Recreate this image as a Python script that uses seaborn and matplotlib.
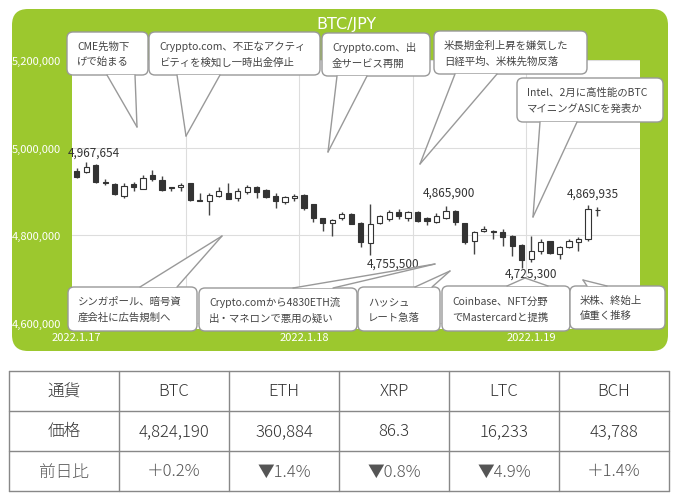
import numpy as np
import pandas as pd
import matplotlib
matplotlib.use("Agg")
import matplotlib.pyplot as plt
from matplotlib.patches import FancyBboxPatch, Polygon
from matplotlib.lines import Line2D
from matplotlib.transforms import Affine2D
from matplotlib.ticker import FuncFormatter
import seaborn as sns

sns.set_theme(style="white")
plt.rcParams['font.family'] = ['Noto Sans CJK JP', 'DejaVu Sans']

# hourly BTC/JPY candles, 2022.1.17 00:00 -> 2022.1.19 07:00
opens = [4947500, 4944500, 4961200, 4921700, 4917100, 4890400, 4917100, 4906400, 4938300, 4926900,
         4909600, 4909600, 4918700, 4879900, 4879000, 4889700, 4897300, 4885200, 4898900, 4909600,
         4902300, 4889100, 4875400, 4885900, 4892000, 4870800, 4838900, 4828200, 4838900, 4848700,
         4828200, 4782500, 4827500, 4837300, 4853900, 4838900, 4853900, 4838900, 4829700, 4838900,
         4856200, 4827500, 4787800, 4810600, 4810600, 4806900, 4799200, 4778600, 4746000, 4765000,
         4786400, 4757400, 4772700, 4784100, 4791700, 4857100]
highs = [4953600, 4967654, 4962700, 4927400, 4918300, 4918700, 4921000, 4937000, 4949100, 4936100,
         4911000, 4918700, 4919400, 4895900, 4895900, 4909600, 4918700, 4908000, 4915500, 4913200,
         4904600, 4896600, 4890400, 4895000, 4893600, 4871500, 4839600, 4837300, 4852600, 4851000,
         4829700, 4871500, 4846400, 4858500, 4860100, 4855500, 4855500, 4842500, 4850300, 4865900,
         4857800, 4828200, 4810600, 4822000, 4811500, 4814500, 4800800, 4780200, 4799200, 4791700,
         4787800, 4776400, 4791700, 4795500, 4869935, 4864000]
lows = [4930800, 4942900, 4920500, 4914200, 4892700, 4884500, 4901800, 4905700, 4924600, 4901800,
        4900500, 4901800, 4879000, 4877600, 4847100, 4886800, 4882900, 4877600, 4894300, 4884500,
        4885200, 4861700, 4871500, 4879000, 4858500, 4829700, 4810600, 4797800, 4835700, 4825200,
        4772700, 4755500, 4825900, 4833400, 4837300, 4833400, 4829700, 4823600, 4827500, 4837300,
        4824300, 4780200, 4757400, 4806900, 4791700, 4776400, 4753500, 4725300, 4738500, 4757400,
        4757400, 4746000, 4771100, 4763600, 4787800, 4844800]
closes = [4933800, 4956600, 4921700, 4920500, 4894300, 4913200, 4909600, 4930800, 4927800, 4903400,
          4907300, 4915500, 4880600, 4879000, 4891300, 4901800, 4883600, 4901800, 4911000, 4899600,
          4886800, 4879000, 4886800, 4890400, 4861700, 4838900, 4828200, 4835700, 4848700, 4825900,
          4785500, 4825900, 4843400, 4853900, 4844800, 4852600, 4833400, 4833400, 4844800, 4856200,
          4829700, 4784100, 4806900, 4814500, 4806900, 4796900, 4776400, 4743700, 4765000, 4784100,
          4759000, 4772700, 4786400, 4791700, 4860100, 4857800]

date_labels = ['2022.1.17', '2022.1.18', '2022.1.19']
y_ticks = [4600000, 4800000, 5000000, 5200000]

# marked highs / lows (candle index, 'high' or 'low')
marked = [(1, 'high'), (31, 'low'), (39, 'high'), (47, 'low'), (54, 'high')]

news = ['CME先物下\nげで始まる',
        'Cryppto.com、不正なアクティ\nビティを検知し一時出金停止',
        'Cryppto.com、出\n金サービス再開',
        '米長期金利上昇を嫌気した\n日経平均、米株先物反落',
        'Intel、2月に高性能のBTC\nマイニングASICを発表か',
        'シンガポール、暗号資\n産会社に広告規制へ',
        'Crypto.comから4830ETH流\n出・マネロンで悪用の疑い',
        'ハッシュ\nレート急落',
        'Coinbase、NFT分野\nでMastercardと提携',
        '米株、終始上\n値重く推移']

currencies = ['BTC', 'ETH', 'XRP', 'LTC', 'BCH']
prices = [4824190, 360884, 86.3, 16233, 43788]
changes = [0.2, -1.4, -0.8, -4.9, 1.4]

GREEN = '#9cc82e'
W, H = 680, 502

fig = plt.figure(figsize=(W / 100, H / 100), dpi=100)
fig.patch.set_facecolor('white')
px = Affine2D().scale(1 / W, -1 / H).translate(0, 1) + fig.transFigure

# green panel
fig.add_artist(FancyBboxPatch((12, 10), 656, 342, boxstyle="round,pad=0,rounding_size=16",
                              transform=px, fc=GREEN, ec='none', zorder=-5))
fig.text(346, 25, 'BTC/JPY', transform=px, ha='center', va='center', color='white',
         fontsize=11.5, family=['DejaVu Sans'])

ax = fig.add_axes([72 / W, 1 - 330 / H, 568 / W, 269 / H])
ax.set_facecolor('white')

df = pd.DataFrame({'open': opens, 'high': highs, 'low': lows, 'close': closes})
df['x'] = np.arange(len(df))
up = df['close'] >= df['open']

ax.vlines(df['x'], df['low'], df['high'], color='#444444', lw=1, zorder=2)
body_bottom = df[['open', 'close']].min(axis=1)
body_h = (df['close'] - df['open']).abs().clip(lower=1200)
ax.bar(df['x'], body_h, bottom=body_bottom, width=0.55,
       color=np.where(up, 'white', '#333333'), edgecolor='#333333', lw=0.8, zorder=3)

ax.set_xlim(-0.5, 59.5)
ax.set_ylim(4586300, 5200000)
ax.set_yticks(y_ticks)
ax.yaxis.set_major_formatter(FuncFormatter(lambda v, p: f"{int(v):,}"))
ax.set_xticks([0, 24, 48])
ax.set_xticklabels(date_labels)
ax.tick_params(axis='y', colors='white', length=0, labelsize=8, pad=8)
ax.tick_params(axis='x', colors='white', length=0, labelsize=8, pad=2)
ax.grid(axis='y', color='#dddddd', lw=0.8, zorder=0)
for gx in [11.5, 23.5, 35.5, 47.5]:
    ax.axvline(gx, color='#dddddd', lw=0.8, zorder=0)
sns.despine(ax=ax, left=True, bottom=True)

label_offsets = [(8, 10), (23, -8), (3, 14), (9, -5), (5, 12)]
for (i, kind), off in zip(marked, label_offsets):
    v = df.loc[i, kind]
    ax.annotate(f"{v:,}", (i, v), xytext=off, textcoords='offset pixels',
                ha='center', va='center', fontsize=8.5, color='#333333', zorder=4)

# callout layout: box (x, y, w, h), wedge base x pair, tip (x, y)  in pixels from top-left
callouts = [
    ((67, 33, 81, 43), (107, 135), (137, 128)),
    ((149, 33, 171, 43), (177, 220), (186, 137)),
    ((322, 34, 108, 43), (337, 367), (328, 153)),
    ((434, 32, 153, 43), (455, 497), (420, 165)),
    ((517, 79, 146, 44), (540, 577), (533, 218)),
    ((68, 288, 129, 44), (140, 177), (222, 237)),
    ((199, 289, 158, 43), (293, 333), (435, 265)),
    ((358, 288, 82, 44), (415, 432), (450, 272)),
    ((442, 287, 128, 45), (507, 548), (525, 279)),
    ((570, 287, 95, 43), (587, 607), (583, 281)),
]
for txt, ((bx, by, bw, bh), (b1, b2), (tx, ty)) in zip(news, callouts):
    fig.add_artist(FancyBboxPatch((bx, by), bw, bh, boxstyle="round,pad=0,rounding_size=6",
                                  transform=px, fc='white', ec='#999999', lw=1, zorder=5))
    base_y = by + bh if ty > by + bh else by
    fig.add_artist(Polygon([(b1, base_y), (tx, ty), (b2, base_y)], closed=True, transform=px,
                           fc='white', ec='none', zorder=6))
    for bxx in (b1, b2):
        fig.add_artist(Line2D([bxx, tx], [base_y, ty], transform=px, color='#999999', lw=1, zorder=7))
    fig.text(bx + 10, by + bh / 2, txt, transform=px, ha='left', va='center', fontsize=7.5,
             color='#444444', linespacing=1.7, zorder=8)

# table
col_x = np.linspace(9, 669, 7)
row_y = [372, 412, 452, 492]
for yy in row_y:
    fig.add_artist(Line2D([col_x[0], col_x[-1]], [yy, yy], transform=px, color='#888888', lw=1))
for xx in col_x:
    fig.add_artist(Line2D([xx, xx], [row_y[0], row_y[-1]], transform=px, color='#888888', lw=1))

rows = [
    ['通貨'] + currencies,
    ['価格'] + [f"{p:,}" for p in prices],
    ['前日比'] + [(f"＋{c}%" if c >= 0 else f"▼{abs(c)}%") for c in changes],
]
row_colors = ['#333333', '#333333', '#555555']
for r, (cells, col) in enumerate(zip(rows, row_colors)):
    cy = (row_y[r] + row_y[r + 1]) / 2
    for c, cell in enumerate(cells):
        cx = (col_x[c] + col_x[c + 1]) / 2
        fig.text(cx, cy, cell, transform=px, ha='center', va='center', fontsize=12,
                 color=col, fontweight='light')

fig.savefig('out.png', dpi=100)
